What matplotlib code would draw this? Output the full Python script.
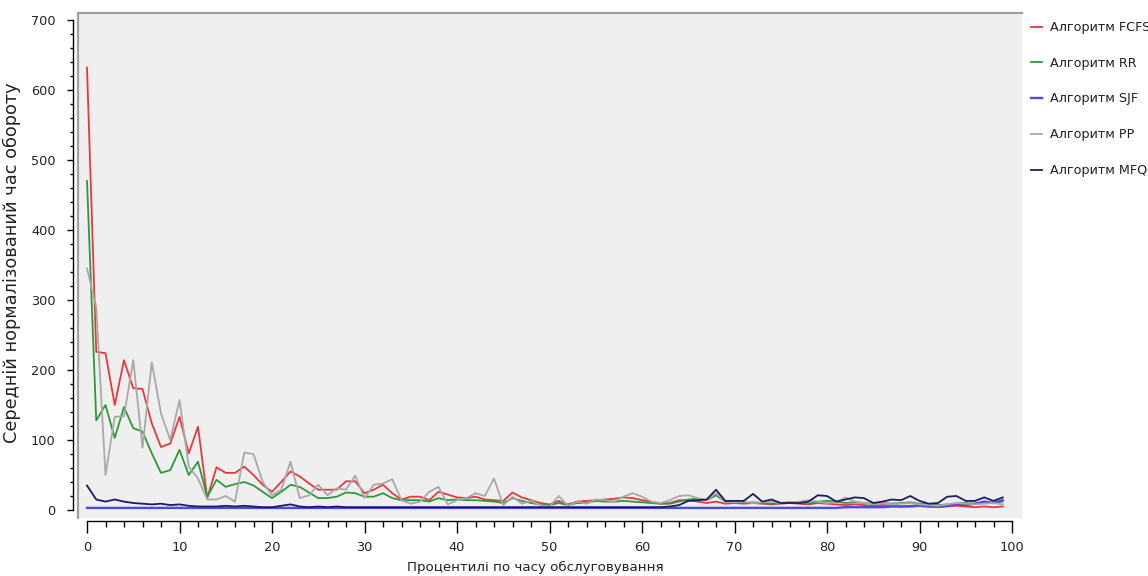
import matplotlib
matplotlib.use("Agg")
import matplotlib.pyplot as plt
from matplotlib.lines import Line2D
from matplotlib.ticker import MultipleLocator

percentiles = list(range(100))

fcfs = [632, 226, 224, 150, 214, 174, 173, 124, 90, 95,
        133, 81, 119, 17, 61, 53, 53, 62, 50, 36,
        26, 40, 55, 48, 38, 29, 29, 29, 41, 41,
        24, 29, 36, 24, 15, 19, 19, 14, 26, 22,
        18, 17, 19, 15, 14, 13, 25, 18, 14, 10,
        8, 13, 8, 12, 13, 14, 15, 16, 18, 17,
        14, 12, 9, 10, 14, 14, 12, 10, 12, 9,
        10, 9, 10, 9, 8, 9, 10, 9, 8, 10,
        9, 8, 7, 8, 7, 6, 7, 6, 5, 6,
        7, 5, 4, 5, 6, 5, 4, 5, 4, 5]

rr = [470, 128, 150, 103, 147, 117, 112, 81, 53, 57,
      86, 50, 69, 19, 43, 33, 37, 40, 35, 26,
      17, 26, 36, 33, 25, 17, 17, 19, 25, 24,
      19, 19, 24, 17, 14, 14, 14, 12, 17, 14,
      15, 14, 14, 13, 12, 10, 17, 13, 10, 8,
      7, 10, 7, 10, 10, 13, 12, 12, 13, 12,
      11, 10, 9, 9, 12, 15, 16, 14, 21, 12,
      10, 10, 11, 10, 9, 10, 11, 10, 9, 12,
      13, 12, 10, 11, 10, 9, 10, 9, 10, 11,
      9, 8, 7, 8, 9, 10, 9, 10, 11, 12]

sjf = [3] * 80 + [3, 3, 4, 4, 4, 4, 4, 5, 5, 5,
                  6, 5, 5, 6, 8, 7, 9, 12, 10, 14]

pp = [345, 290, 50, 133, 134, 214, 89, 211, 138, 100,
      157, 62, 45, 15, 15, 20, 12, 82, 80, 40,
      21, 29, 69, 17, 21, 36, 21, 31, 29, 49,
      17, 36, 38, 44, 14, 9, 12, 26, 33, 8,
      14, 17, 24, 20, 45, 7, 19, 9, 13, 7,
      5, 20, 6, 12, 9, 15, 14, 12, 19, 24,
      19, 12, 10, 14, 20, 21, 17, 14, 24, 12,
      11, 12, 10, 11, 12, 10, 11, 12, 14, 12,
      10, 11, 18, 12, 10, 9, 10, 8, 9, 10,
      8, 7, 6, 8, 10, 9, 8, 9, 10, 8]

mfq = [35, 15, 12, 15, 12, 10, 9, 8, 9, 7,
       8, 6, 5, 5, 5, 6, 5, 6, 5, 4,
       4, 6, 8, 5, 4, 5, 4, 5, 4, 4,
       4, 4, 4, 4, 4, 4, 4, 4, 4, 4,
       4, 4, 4, 4, 4, 4, 4, 4, 4, 4,
       4, 4, 4, 4, 4, 4, 4, 4, 4, 4,
       4, 4, 4, 5, 7, 13, 14, 15, 29, 13,
       13, 13, 23, 12, 15, 10, 10, 10, 12, 21,
       20, 12, 15, 18, 17, 10, 12, 15, 14, 20,
       13, 9, 10, 19, 20, 13, 13, 18, 13, 18]

series_names = ["Алгоритм FCFS", "Алгоритм RR", "Алгоритм SJF", "Алгоритм PP", "Алгоритм MFQ"]
series_colors = ["#e8383d", "#2d9a3a", "#4a4ae6", "#a9a9a9", "#1c1c64"]
xlabel = "Процентилі по часу обслуговування"
ylabel = "Середній нормалізований час обороту"

W, H = 1148, 576
fig = plt.figure(figsize=(W / 100, H / 100), dpi=100)
fig.patch.set_facecolor("white")

# panel 78..1022 px, 13..518 px
L, R, T, B = 78, 1022, 13, 518
ax = fig.add_axes([L / W, (H - B) / H, (R - L) / W, (B - T) / H])
ax.set_facecolor("#efefef")

x0_px, x100_px = 87, 1012
y0_px, y700_px = 510, 20
sx = (x100_px - x0_px) / 100
sy = (y0_px - y700_px) / 700
ax.set_xlim((L - x0_px) / sx, (R - x0_px) / sx)
ax.set_ylim((y0_px - B) / sy, (y0_px - T) / sy)

for vals, name, col in zip([fcfs, rr, sjf, pp, mfq], series_names, series_colors):
    lw = 1.7 if name.endswith("SJF") else 1.3
    ax.plot(percentiles, vals, color=col, lw=lw, label=name, solid_joinstyle="round")

# spines
ax.spines["right"].set_visible(False)
ax.spines["top"].set_color("#a0a0a0")
ax.spines["top"].set_linewidth(1.6)
ax.add_line(Line2D([0, 0], [0, 1], transform=ax.transAxes, color="#a0a0a0",
                   lw=1.6, clip_on=False))
ax.spines["left"].set_position(("outward", 3.6))
ax.spines["left"].set_bounds(0, 700)
ax.spines["bottom"].set_position(("outward", 2.2))
ax.spines["bottom"].set_bounds(0, 100)
for s in ("left", "bottom"):
    ax.spines[s].set_color("black")
    ax.spines[s].set_linewidth(1.0)

ax.xaxis.set_major_locator(MultipleLocator(10))
ax.xaxis.set_minor_locator(MultipleLocator(2))
ax.yaxis.set_major_locator(MultipleLocator(100))
ax.yaxis.set_minor_locator(MultipleLocator(20))
ax.tick_params(axis="y", which="major", length=4.5, width=1, direction="out",
               pad=8, labelsize=9.3, colors="black")
ax.tick_params(axis="y", which="minor", length=2.5, width=1, direction="out")
ax.tick_params(axis="x", which="major", length=8.5, width=1, direction="out",
               pad=6, labelsize=9.3)
ax.tick_params(axis="x", which="minor", length=4.3, width=1, direction="out")
for lab in ax.get_xticklabels() + ax.get_yticklabels():
    lab.set_color("#222222")

fig.text(535 / W, 1 - 567 / H, xlabel, ha="center", va="center", fontsize=9.6, color="#222222")
fig.text(12 / W, 1 - 263 / H, ylabel, ha="center", va="center", rotation=90,
         fontsize=12.8, color="#222222")

leg = fig.legend(loc="upper left", bbox_to_anchor=(1031 / W, 1 - 21 / H), frameon=False,
                 fontsize=9.2, handlelength=0.85, handletextpad=0.6, labelspacing=1.78,
                 borderaxespad=0, borderpad=0)
for t in leg.get_texts():
    t.set_color("#222222")

fig.savefig("out.png", dpi=100)
